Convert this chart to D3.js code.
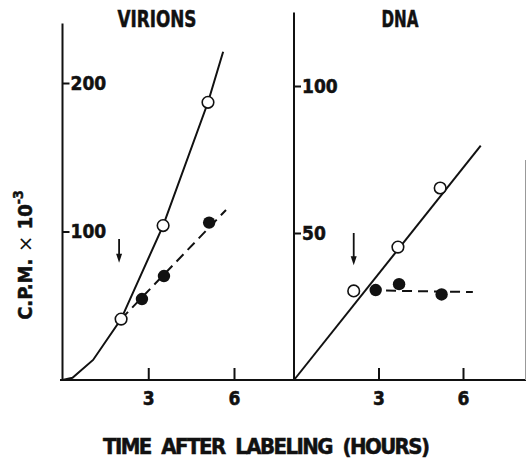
<!DOCTYPE html>
<head>
  <meta charset="utf-8">
  <title>Virions and DNA</title>
  <script src="https://d3js.org/d3.v7.min.js"></script>
  <style>
    body { margin: 0; background: #fff; }
    text { font-family: "DejaVu Sans Condensed", "Liberation Sans Narrow", sans-serif; font-weight: bold; fill: #111; stroke: #111; stroke-width: 0.5px; }
  </style>
</head>

<body>
  <script type="text/javascript">
    var WIDTH = 528;
    var HEIGHT = 460;

    // virions panel (cpm x 10^-3 vs hours)
    var virOpenHours   = [2.05, 3.52, 5.09];
    var virOpen        = [41, 104, 187];
    var virFilledHours = [2.78, 3.55, 5.13];
    var virFilled      = [54.5, 70, 106];
    var virLineHours   = [0, 0.35, 1.07, 2.05, 3.52, 5.09, 5.62];
    var virLine        = [0, 1.5, 13.5, 41, 104, 187, 221];
    var virDashHours   = [2.05, 5.72];
    var virDash        = [41, 114.5];
    var virArrow       = [1.98, 95, 79];   // hour, from, to

    // DNA panel
    var dnaOpenHours   = [2.12, 3.69, 5.19];
    var dnaOpen        = [30.3, 45.2, 65.3];
    var dnaFilledHours = [2.9, 3.73, 5.24];
    var dnaFilled      = [30.6, 32.6, 29.1];
    var dnaLineHours   = [0, 6.63];
    var dnaLine        = [0, 79.7];
    var dnaDashHours   = [2.7, 6.35];
    var dnaDash        = [30.5, 29.9];
    var dnaArrow       = [2.12, 50, 39];

    var xTicks = [3, 6];
    var virTicks = [100, 200];
    var dnaTicks = [50, 100];

    var svg = d3.select("body").append("svg")
                .attr("width", WIDTH)
                .attr("height", HEIGHT);

    var base = 380;

    var panels = [
      { title: "VIRIONS", titleX: 157, titleW: 79,
        x: d3.scaleLinear().domain([0, 6]).range([62.5, 234]),
        y: d3.scaleLinear().domain([0, 200]).range([base, 83]),
        yTop: 240, yTicks: virTicks,
        openH: virOpenHours, open: virOpen, fillH: virFilledHours, fill: virFilled,
        lineH: virLineHours, line: virLine, dashH: virDashHours, dash: virDash, arrow: virArrow },
      { title: "DNA", titleX: 400, titleW: 37,
        x: d3.scaleLinear().domain([0, 6]).range([294, 463]),
        y: d3.scaleLinear().domain([0, 100]).range([base, 86]),
        yTop: 125, yTicks: dnaTicks,
        openH: dnaOpenHours, open: dnaOpen, fillH: dnaFilledHours, fill: dnaFilled,
        lineH: dnaLineHours, line: dnaLine, dashH: dnaDashHours, dash: dnaDash, arrow: dnaArrow }
    ];

    //baseline across both panels
    svg.append("line")
       .attr("x1", 60).attr("x2", 526)
       .attr("y1", base).attr("y2", base)
       .attr("stroke", "#111").attr("stroke-width", 2);
    //faint right edge
    svg.append("line")
       .attr("x1", 525.5).attr("x2", 525.5)
       .attr("y1", 160).attr("y2", base)
       .attr("stroke", "#999").attr("stroke-width", 1);

    panels.forEach(function(p){
      var g = svg.append("g");

      //x axis ticks (pointing up) with labels
      var xa = g.append("g")
                .attr("transform", "translate(0," + base + ")")
                .call(d3.axisBottom(p.x).tickValues(xTicks).tickSize(-12).tickPadding(12).tickFormat(d3.format("d")));
      xa.select(".domain").remove();
      xa.selectAll("line").attr("stroke", "#111").attr("stroke-width", 2);
      xa.selectAll("text").attr("font-size", 19).attr("fill", "#111");

      //y axis: ticks and labels inside
      var ya = g.append("g")
                .attr("transform", "translate(" + p.x(0) + ",0)")
                .call(d3.axisRight(p.y).tickValues(p.yTicks).tickSize(7).tickPadding(1).tickFormat(d3.format("d")));
      ya.select(".domain").remove();
      ya.selectAll("line").attr("stroke", "#111").attr("stroke-width", 2);
      ya.selectAll("text").attr("font-size", 19).attr("fill", "#111");

      g.append("line")
       .attr("x1", p.x(0)).attr("x2", p.x(0))
       .attr("y1", p.y(p.yTop)).attr("y2", base + 1)
       .attr("stroke", "#111").attr("stroke-width", 2);

      //title
      g.append("text")
       .attr("x", p.titleX - p.titleW / 2).attr("y", 27)
       .attr("font-size", 23)
       .attr("textLength", p.titleW)
       .attr("lengthAdjust", "spacingAndGlyphs")
       .text(p.title);

      var line = d3.line()
                   .x(function(d){ return p.x(d[0]); })
                   .y(function(d){ return p.y(d[1]); });

      g.append("path")
       .attr("d", line(d3.zip(p.lineH, p.line)))
       .attr("fill", "none").attr("stroke", "#111").attr("stroke-width", 2);

      g.append("path")
       .attr("d", line(d3.zip(p.dashH, p.dash)))
       .attr("fill", "none").attr("stroke", "#111").attr("stroke-width", 2)
       .attr("stroke-dasharray", "10,6");

      g.selectAll("circle.open")
       .data(d3.zip(p.openH, p.open))
       .enter().append("circle")
       .attr("class", "open")
       .attr("cx", function(d){ return p.x(d[0]); })
       .attr("cy", function(d){ return p.y(d[1]); })
       .attr("r", 5.8)
       .attr("fill", "#fff").attr("stroke", "#111").attr("stroke-width", 1.6);

      g.selectAll("circle.filled")
       .data(d3.zip(p.fillH, p.fill))
       .enter().append("circle")
       .attr("class", "filled")
       .attr("cx", function(d){ return p.x(d[0]); })
       .attr("cy", function(d){ return p.y(d[1]); })
       .attr("r", 6.2)
       .attr("fill", "#111");

      //arrow
      var ax = p.x(p.arrow[0]), ay0 = p.y(p.arrow[1]), ay1 = p.y(p.arrow[2]);
      g.append("line")
       .attr("x1", ax).attr("x2", ax)
       .attr("y1", ay0).attr("y2", ay1 - 6)
       .attr("stroke", "#111").attr("stroke-width", 1.8);
      g.append("path")
       .attr("d", "M" + (ax - 3) + "," + (ay1 - 9) + "L" + (ax + 3) + "," + (ay1 - 9) + "L" + ax + "," + ay1 + "Z")
       .attr("fill", "#111");
    });

    //y axis label
    var yl = svg.append("text")
                .attr("transform", "translate(32,255) rotate(-90)")
                .attr("text-anchor", "middle")
                .attr("font-size", 20);
    yl.append("tspan").text("C.P.M.");
    yl.append("tspan").attr("font-weight", "normal").attr("stroke-width", 0).attr("font-family", "DejaVu Sans").text(" \u00d7 ");
    yl.append("tspan").text("10");
    yl.append("tspan").attr("dy", -9).attr("font-size", 14).text("-3");

    //x axis label
    svg.append("text")
       .attr("x", 103).attr("y", 454)
       .attr("font-size", 22)
       .attr("textLength", 327)
       .attr("lengthAdjust", "spacing")
       .attr("xml:space", "preserve")
       .style("white-space", "pre")
       .text("TIME  AFTER  LABELING  (HOURS)");
  </script>
</body>
